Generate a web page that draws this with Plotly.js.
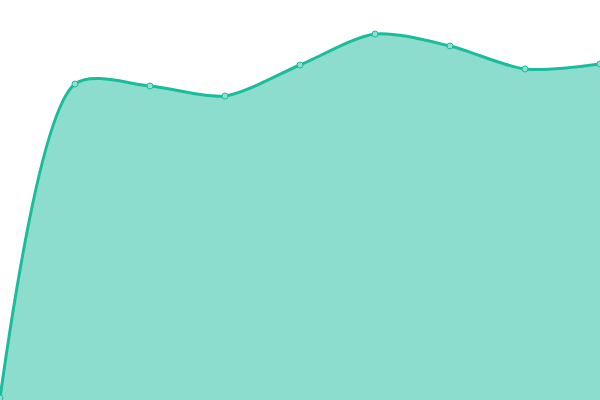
<!DOCTYPE html>
<html>
<head>
<meta charset="utf-8">
<script src="https://cdn.plot.ly/plotly-3.0.1.min.js"></script>
<style>
  html, body { margin: 0; padding: 0; background: #fff; }
  #chart { width: 600px; height: 400px; }
</style>
</head>
<body>
<div id="chart"></div>
<script>
var labels = [0, 1, 2, 3, 4, 5, 6, 7, 8];
var values = [2, 316, 314, 304, 335, 366, 354, 331, 336];

var trace = {
  x: labels,
  y: values,
  type: 'scatter',
  mode: 'lines+markers',
  fill: 'tozeroy',
  fillcolor: 'rgba(26,188,156,0.5)',
  line: { color: '#1abc9c', width: 3, shape: 'spline', smoothing: 0.8 },
  marker: { size: 6, color: '#8ee0cf', line: { color: '#1abc9c', width: 1 } },
  hoverinfo: 'none',
  cliponaxis: true
};

var layout = {
  width: 600,
  height: 400,
  margin: { l: 0, r: 0, t: 0, b: 0 },
  paper_bgcolor: '#fff',
  plot_bgcolor: '#fff',
  showlegend: false,
  xaxis: { range: [0, 8], visible: false, fixedrange: true },
  yaxis: { range: [0, 400], visible: false, fixedrange: true }
};

Plotly.newPlot('chart', [trace], layout, { displayModeBar: false, staticPlot: true });
</script>
</body>
</html>
